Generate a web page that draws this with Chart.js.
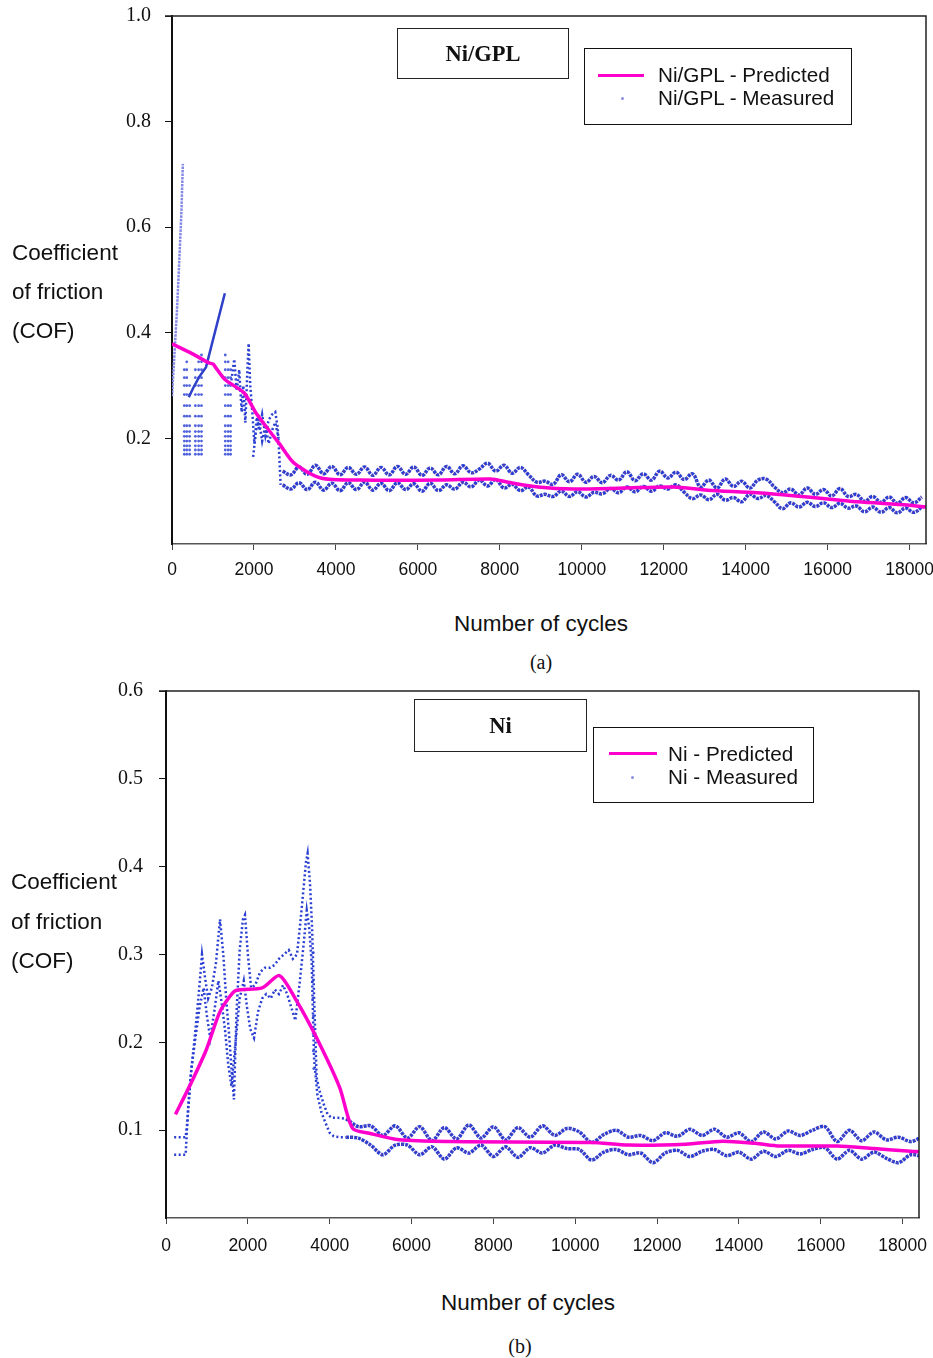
<!DOCTYPE html>
<html>
<head>
<meta charset="utf-8">
<script src="https://cdn.jsdelivr.net/npm/chart.js@4.4.1/dist/chart.umd.min.js"></script>
<style>
  body { margin: 0; background: #fff; }
  #page { position: relative; width: 933px; height: 1358px; font-family: 'Liberation Sans', Arial, sans-serif; color: #111; }
  canvas { position: absolute; left: 0; }
  .t { position: absolute; white-space: nowrap; transform: translateY(-50%); }
  .c { transform: translate(-50%, -50%); }
  .ylab { font-size: 22.5px; }
  .xlab { font-size: 22.5px; }
  .cap { font-family: 'Liberation Serif', 'Times New Roman', serif; font-size: 20px; }
  .tbox { position: absolute; border: 1.5px solid #222; box-sizing: border-box; display: flex; align-items: center; justify-content: center;
          font-family: 'Liberation Serif', 'Times New Roman', serif; font-weight: bold; font-size: 22.5px; }
  .lbox { position: absolute; border: 1.5px solid #111; box-sizing: border-box; }
  .lline { position: absolute; height: 3px; background: #f0c; margin-top: -1.5px; }
  .ldot { position: absolute; width: 3px; height: 3px; border-radius: 50%; background: #8a90e0; margin: -1.5px 0 0 -1.5px; }
  .ltxt { position: absolute; font-size: 20.7px; transform: translateY(-50%); }
</style>
</head>
<body>
<div id="page">
  <canvas id="cofA" width="933" height="600" style="top:0"></canvas>
  <canvas id="cofB" width="933" height="600" style="top:675px"></canvas>

  <div class="t ylab" style="left:12px; top:253px">Coefficient</div>
  <div class="t ylab" style="left:12px; top:292px">of friction</div>
  <div class="t ylab" style="left:12px; top:331px">(COF)</div>
  <div class="t c xlab" style="left:541px; top:624px">Number of cycles</div>
  <div class="t c cap" style="left:541px; top:662px">(a)</div>

  <div class="tbox" style="left:397px; top:28px; width:172px; height:51px">Ni/GPL</div>
  <div class="lbox" style="left:584px; top:48px; width:268px; height:77px"></div>
  <div class="lline" style="left:598px; top:75px; width:46px"></div>
  <div class="ldot" style="left:622px; top:98px"></div>
  <div class="ltxt" style="left:658px; top:75px">Ni/GPL - Predicted</div>
  <div class="ltxt" style="left:658px; top:98px">Ni/GPL - Measured</div>

  <div class="t ylab" style="left:11px; top:882px">Coefficient</div>
  <div class="t ylab" style="left:11px; top:922px">of friction</div>
  <div class="t ylab" style="left:11px; top:961px">(COF)</div>
  <div class="t c xlab" style="left:528px; top:1303px">Number of cycles</div>
  <div class="t c cap" style="left:520px; top:1346px">(b)</div>

  <div class="tbox" style="left:414px; top:699px; width:173px; height:53px">Ni</div>
  <div class="lbox" style="left:593px; top:727px; width:221px; height:76px"></div>
  <div class="lline" style="left:609px; top:753px; width:48px"></div>
  <div class="ldot" style="left:632px; top:777px"></div>
  <div class="ltxt" style="left:668px; top:754px">Ni - Predicted</div>
  <div class="ltxt" style="left:668px; top:777px">Ni - Measured</div>
</div>

<script>
// ---------- (a) Ni/GPL ----------
const predA_x = [0, 500, 900, 1000, 1050, 1300, 1760, 2050, 2300, 2610, 2980, 3630, 4600, 6560, 7780, 8200, 8930, 9800, 11020, 12240, 13070, 14290, 15510, 16730, 17950, 18400];
const predA_y = [0.379, 0.360, 0.343, 0.341, 0.336, 0.311, 0.286, 0.248, 0.222, 0.191, 0.153, 0.125, 0.121, 0.121, 0.123, 0.117, 0.108, 0.104, 0.106, 0.108, 0.102, 0.097, 0.089, 0.080, 0.074, 0.070];

// steep run-in at the start of the test
const spikeA_x = [0, 60, 120, 180, 230, 265];
const spikeA_y = [0.28, 0.36, 0.44, 0.54, 0.63, 0.72];
const diagA_x = [410, 520, 660, 830, 1290];
const diagA_y = [0.278, 0.296, 0.316, 0.335, 0.475];

// stacked readings in the first 1500 cycles
const colsA_x = [300, 360, 430, 570, 650, 720, 1300, 1370, 1430];
const colsA_top = [0.33, 0.355, 0.31, 0.34, 0.35, 0.36, 0.36, 0.35, 0.33];
const rowsA = [0.170, 0.178, 0.186, 0.195, 0.204, 0.213, 0.224, 0.242, 0.262, 0.283, 0.300, 0.315, 0.330, 0.345, 0.358];

const zigA1_x = [1450, 1520, 1580, 1640, 1700, 1740, 1790, 1840, 1870, 1910, 1960, 2010, 2070, 2130, 2200, 2280, 2360, 2440, 2520, 2580, 2620, 2650];
const zigA1_y = [0.31, 0.35, 0.29, 0.33, 0.25, 0.30, 0.23, 0.33, 0.38, 0.30, 0.25, 0.19, 0.24, 0.215, 0.245, 0.205, 0.235, 0.245, 0.25, 0.22, 0.165, 0.112];
const zigA2_x = [1980, 2050, 2120, 2200, 2280, 2360, 2440, 2520, 2600];
const zigA2_y = [0.165, 0.215, 0.235, 0.195, 0.225, 0.19, 0.215, 0.23, 0.2];

// steady-state oscillation, one reading every 200 cycles from 2700
const bandA_start = 2700, bandA_step = 200;
const upperA = [
  0.138, 0.131, 0.146, 0.132, 0.149, 0.133, 0.147, 0.131, 0.145, 0.132,
  0.146, 0.130, 0.145, 0.131, 0.147, 0.132, 0.146, 0.130, 0.144, 0.131,
  0.147, 0.133, 0.148, 0.135, 0.142, 0.153, 0.138, 0.149, 0.134, 0.145,
  0.131, 0.117, 0.119, 0.113, 0.131, 0.118, 0.132, 0.117, 0.128, 0.116,
  0.130, 0.121, 0.137, 0.120, 0.133, 0.121, 0.138, 0.125, 0.136, 0.122,
  0.133, 0.108, 0.121, 0.106, 0.123, 0.109, 0.119, 0.106, 0.121, 0.123,
  0.108, 0.097, 0.104, 0.093, 0.106, 0.094, 0.103, 0.091, 0.105, 0.090,
  0.094, 0.081, 0.090, 0.079, 0.089, 0.077, 0.088, 0.078, 0.089
];
const lowerA = [
  0.112, 0.104, 0.116, 0.103, 0.117, 0.102, 0.115, 0.101, 0.116, 0.103,
  0.117, 0.102, 0.115, 0.101, 0.116, 0.103, 0.114, 0.100, 0.115, 0.101,
  0.112, 0.104, 0.117, 0.108, 0.121, 0.110, 0.122, 0.106, 0.113, 0.101,
  0.108, 0.091, 0.094, 0.090, 0.100, 0.090, 0.099, 0.089, 0.098, 0.095,
  0.105, 0.097, 0.108, 0.099, 0.109, 0.100, 0.110, 0.104, 0.112, 0.098,
  0.086, 0.093, 0.084, 0.094, 0.083, 0.088, 0.080, 0.094, 0.086, 0.092,
  0.080, 0.067, 0.078, 0.070, 0.079, 0.071, 0.078, 0.069, 0.077, 0.068,
  0.072, 0.061, 0.070, 0.060, 0.069, 0.059, 0.068, 0.060, 0.070
];

// ---------- (b) Ni ----------
const predB_x = [230, 565, 980, 1300, 1540, 1710, 2350, 2770, 3180, 3670, 4240, 4560, 4970, 5700, 6930, 10400, 11300, 12700, 13600, 14400, 15000, 16400, 17300, 18200, 18400];
const predB_y = [0.118, 0.149, 0.191, 0.233, 0.251, 0.259, 0.262, 0.276, 0.248, 0.206, 0.149, 0.102, 0.0965, 0.089, 0.087, 0.086, 0.083, 0.084, 0.0875, 0.085, 0.082, 0.082, 0.079, 0.076, 0.0755];

const earlyUB_x = [200, 480, 520, 600, 700, 800, 880, 950, 1030, 1120, 1220, 1320, 1400, 1470, 1540, 1600, 1660, 1720, 1800, 1880, 1930, 2000, 2080, 2180, 2300, 2420, 2540, 2650, 2760, 2880, 3000, 3100, 3200, 3280, 3350, 3420, 3460, 3520, 3570, 3620, 3680, 3750, 3850, 3950, 4050, 4200, 4400];
const earlyUB_y = [0.092, 0.092, 0.108, 0.160, 0.205, 0.255, 0.300, 0.275, 0.250, 0.262, 0.290, 0.340, 0.300, 0.250, 0.210, 0.170, 0.135, 0.230, 0.305, 0.340, 0.345, 0.300, 0.262, 0.265, 0.280, 0.285, 0.285, 0.288, 0.295, 0.300, 0.305, 0.295, 0.300, 0.335, 0.370, 0.405, 0.415, 0.380, 0.330, 0.250, 0.160, 0.145, 0.130, 0.118, 0.114, 0.114, 0.113];
const earlyLB_x = [200, 480, 540, 620, 720, 820, 920, 1000, 1080, 1180, 1280, 1360, 1440, 1520, 1600, 1700, 1800, 1900, 1980, 2060, 2150, 2250, 2350, 2450, 2560, 2660, 2760, 2860, 2960, 3060, 3160, 3260, 3360, 3440, 3500, 3560, 3620, 3700, 3800, 3900, 4000, 4100, 4250, 4400];
const earlyLB_y = [0.072, 0.072, 0.125, 0.170, 0.205, 0.240, 0.262, 0.230, 0.205, 0.235, 0.270, 0.245, 0.215, 0.175, 0.150, 0.200, 0.250, 0.270, 0.240, 0.215, 0.205, 0.235, 0.250, 0.255, 0.250, 0.260, 0.255, 0.265, 0.255, 0.240, 0.225, 0.265, 0.310, 0.350, 0.330, 0.290, 0.180, 0.140, 0.120, 0.108, 0.097, 0.093, 0.092, 0.092];
const strayB_x = [3600, 3590, 3590, 3600, 3595, 3600, 3610];
const strayB_y = [0.302, 0.27, 0.25, 0.23, 0.21, 0.19, 0.17];

// steady-state oscillation, one reading every 300 cycles from 4400
const bandB_start = 4400, bandB_step = 300;
const upperB = [
  0.113, 0.104, 0.105, 0.094, 0.105, 0.091, 0.104, 0.088, 0.103, 0.090,
  0.106, 0.091, 0.104, 0.089, 0.103, 0.092, 0.105, 0.094, 0.102, 0.098,
  0.086, 0.095, 0.100, 0.092, 0.094, 0.088, 0.097, 0.093, 0.101, 0.094,
  0.101, 0.092, 0.097, 0.087, 0.098, 0.090, 0.099, 0.094, 0.100, 0.104,
  0.087, 0.100, 0.088, 0.098, 0.089, 0.092, 0.087, 0.093
];
const lowerB = [
  0.092, 0.091, 0.083, 0.072, 0.083, 0.083, 0.072, 0.081, 0.067, 0.080,
  0.074, 0.083, 0.070, 0.081, 0.069, 0.080, 0.074, 0.083, 0.079, 0.078,
  0.066, 0.075, 0.078, 0.072, 0.074, 0.063, 0.074, 0.077, 0.070, 0.076,
  0.078, 0.071, 0.075, 0.067, 0.076, 0.070, 0.077, 0.073, 0.078, 0.080,
  0.067, 0.077, 0.067, 0.075, 0.068, 0.063, 0.072, 0.070
];

// ---------- helpers ----------
const BLUE = '#2a3fd2';
const MAGENTA = '#f0c';
const zip = (xs, ys) => xs.map((x, i) => ({ x, y: ys[i] }));
const band = (start, step, ys) => ys.map((y, i) => ({ x: start + i * step, y }));

function predicted(data) {
  return { data, showLine: true, borderColor: MAGENTA, borderWidth: 3.5, pointRadius: 0, tension: 0.25 };
}
// measured readings are plotted as closely spaced dots
function dotted(data, opts = {}) {
  return Object.assign({ data, showLine: true, borderColor: BLUE, borderWidth: 3.5, borderDash: [3, 1],
                         pointRadius: 0, tension: 0.4 }, opts);
}
function redCore(data, opts = {}) {
  return Object.assign({ data, showLine: true, borderColor: 'rgba(235,70,70,0.6)', borderWidth: 1.2, borderDash: [1, 4],
                         pointRadius: 0, tension: 0.4 }, opts);
}
function scatterDots(data) {
  return { data, showLine: false, pointRadius: 1.4, pointBorderWidth: 0, pointBackgroundColor: '#5163dc' };
}

const frame = {
  id: 'frame',
  afterDraw(chart) {
    const { ctx, chartArea: a } = chart;
    ctx.save();
    ctx.strokeStyle = '#222';
    ctx.lineWidth = 1.5;
    ctx.beginPath();
    ctx.moveTo(a.left - 7, a.top);
    ctx.lineTo(a.right, a.top);
    ctx.lineTo(a.right, a.bottom);
    ctx.stroke();
    ctx.restore();
  }
};

function makeChart(id, datasets, g) {
  return new Chart(document.getElementById(id), {
    type: 'scatter',
    data: { datasets },
    plugins: [frame],
    options: {
      responsive: false,
      animation: false,
      devicePixelRatio: 1,
      layout: { padding: { left: 0, right: g.right, top: g.top, bottom: 0 } },
      plugins: { legend: { display: false }, tooltip: { enabled: false } },
      scales: {
        x: {
          type: 'linear', min: 0, max: 18400,
          afterFit: s => { s.height = g.xh; s.paddingLeft = 0; s.paddingRight = 0; },
          afterBuildTicks: s => { s.ticks = g.xticks.map(v => ({ value: v })); },
          border: { color: '#555', width: 1.5 },
          grid: { drawOnChartArea: false, drawTicks: true, tickLength: 6, color: '#444' },
          ticks: { padding: g.xpad, color: '#111', font: { family: "'Liberation Sans', Arial, sans-serif", size: 17.5 },
                   maxRotation: 0, autoSkip: false, callback: v => String(v) }
        },
        y: {
          min: 0, max: g.ymax,
          afterFit: s => { s.width = g.left; s.paddingTop = 0; s.paddingBottom = 0; },
          afterBuildTicks: s => { s.ticks = g.yticks.map(v => ({ value: v })); },
          border: { color: '#111', width: 2 },
          grid: { drawOnChartArea: false, drawTicks: true, tickLength: 7, color: '#111' },
          ticks: { padding: g.ypad, color: '#111', font: { family: "'Liberation Serif', 'Times New Roman', serif", size: 20 },
                   callback: v => v.toFixed(1) }
        }
      }
    }
  });
}

// ---------- (a) ----------
const colPtsA = [];
colsA_x.forEach((x, i) => rowsA.forEach(r => { if (r <= colsA_top[i]) colPtsA.push({ x, y: r }); }));
const upA = band(bandA_start, bandA_step, upperA);
const loA = band(bandA_start, bandA_step, lowerA);

makeChart('cofA', [
  predicted(zip(predA_x, predA_y)),
  redCore(upA), redCore(loA),
  dotted(upA), dotted(loA),
  dotted(zip(spikeA_x, spikeA_y), { borderColor: '#8489e6', borderWidth: 2.5, borderDash: [2.5, 1], tension: 0 }),
  dotted(zip(diagA_x, diagA_y), { borderDash: [], borderWidth: 2.5, tension: 0, borderColor: '#3040c8' }),
  dotted(zip(zigA1_x, zigA1_y), { borderWidth: 2.5, borderDash: [2, 2.5], tension: 0 }),
  dotted(zip(zigA2_x, zigA2_y), { borderWidth: 2.5, borderDash: [2, 2.5], tension: 0 }),
  scatterDots(colPtsA)
], {
  left: 172, right: 7, top: 16, xh: 56, xpad: 10, ypad: 14, ymax: 1.0,
  xticks: [0, 2000, 4000, 6000, 8000, 10000, 12000, 14000, 16000, 18000],
  yticks: [0.2, 0.4, 0.6, 0.8, 1.0]
});

// ---------- (b) ----------
const upB = band(bandB_start, bandB_step, upperB);
const loB = band(bandB_start, bandB_step, lowerB);

makeChart('cofB', [
  predicted(zip(predB_x, predB_y)),
  redCore(upB, { tension: 0.3 }), redCore(loB, { tension: 0.3 }),
  dotted(upB, { tension: 0.3 }), dotted(loB, { tension: 0.3 }),
  dotted(zip(earlyUB_x, earlyUB_y), { borderWidth: 2.5, borderDash: [2, 2.5], tension: 0 }),
  dotted(zip(earlyLB_x, earlyLB_y), { borderWidth: 2.5, borderDash: [2, 2.5], tension: 0 }),
  scatterDots(zip(strayB_x, strayB_y))
], {
  left: 166, right: 14, top: 16, xh: 57, xpad: 12, ypad: 16, ymax: 0.6,
  xticks: [0, 2000, 4000, 6000, 8000, 10000, 12000, 14000, 16000, 18000],
  yticks: [0.1, 0.2, 0.3, 0.4, 0.5, 0.6]
});
</script>
</body>
</html>
